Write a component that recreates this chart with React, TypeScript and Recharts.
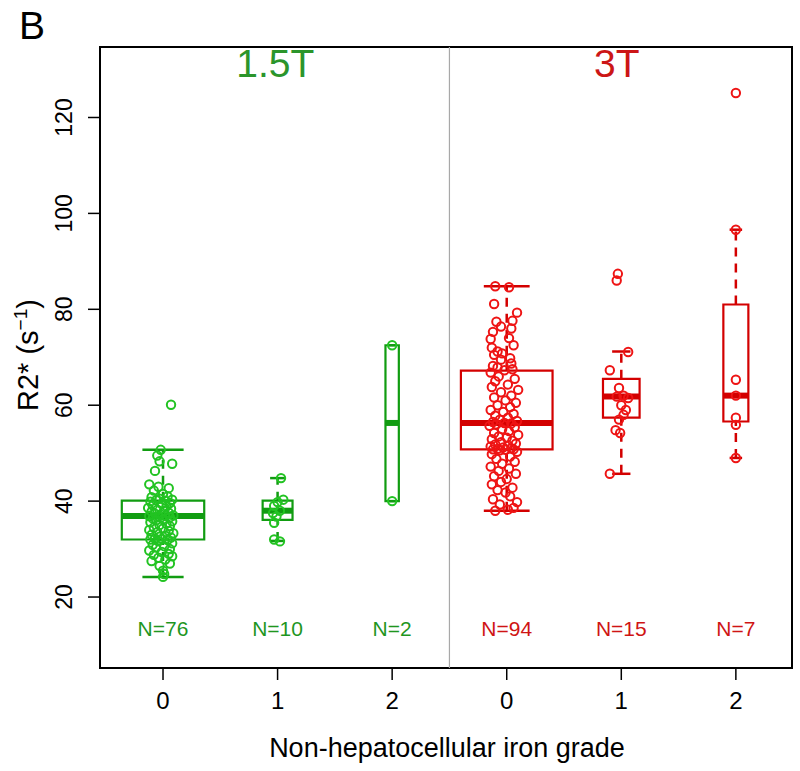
import {
  ComposedChart,
  ReferenceArea,
  ReferenceLine,
  Scatter,
  XAxis,
  YAxis,
} from "recharts";

// group positions, tick labels and sample sizes
const groupX = [1, 2, 3, 4, 5, 6];
const gradeLabels = ["0", "1", "2", "0", "1", "2"];
const counts = [76, 10, 2, 94, 15, 7];
const fieldOf = ["1.5T", "1.5T", "1.5T", "3T", "3T", "3T"];
const yTicks = [20, 40, 60, 80, 100, 120];

// box statistics
const q1 = [32.0, 36.1, 40.0, 50.8, 57.4, 56.6];
const medians = [36.9, 38.0, 56.3, 56.3, 61.8, 62.0];
const q3 = [40.1, 40.1, 72.5, 67.2, 65.5, 81.0];
const whiskerLow = [24.2, 31.7, 40.0, 38.0, 45.7, 49.0];
const whiskerHigh = [50.7, 44.8, 72.5, 84.8, 71.2, 96.6];

// jittered points [x, R2*]
const pts15g0: [number, number][] = [
  [1.07, 60.1], [0.98, 50.7], [0.95, 49.5], [0.97, 48.3], [1.08, 47.8],
  [0.93, 46.3], [0.88, 43.5], [0.96, 43.0], [1.05, 42.7], [0.92, 42.2],
  [1.0, 41.5], [1.04, 41.0], [0.9, 40.8], [0.97, 40.5], [1.08, 40.3],
  [0.94, 40.2], [1.02, 40.1], [0.89, 39.9], [1.06, 39.6], [0.99, 39.4],
  [0.91, 39.1], [1.03, 38.9], [0.87, 38.6], [1.07, 38.4], [0.95, 38.2],
  [1.01, 38.0], [0.9, 37.8], [1.05, 37.6], [0.93, 37.4], [0.98, 37.2],
  [1.09, 37.0], [0.88, 36.9], [1.02, 36.9], [0.96, 36.8], [1.06, 36.6],
  [0.91, 36.4], [1.0, 36.2], [0.94, 36.0], [1.08, 35.8], [0.89, 35.6],
  [1.03, 35.3], [0.97, 35.0], [1.06, 34.8], [0.92, 34.5], [1.0, 34.3],
  [0.88, 34.0], [1.05, 33.8], [0.95, 33.5], [1.09, 33.3], [0.9, 33.0],
  [1.02, 32.8], [0.97, 32.6], [1.07, 32.4], [0.93, 32.2], [0.99, 32.1],
  [0.89, 32.0], [1.04, 31.9], [0.96, 31.6], [1.08, 31.2], [0.91, 30.9],
  [1.01, 30.6], [0.94, 30.3], [1.06, 30.0], [0.88, 29.7], [0.99, 29.4],
  [1.05, 29.0], [0.92, 28.8], [1.08, 28.5], [0.96, 28.2], [1.02, 27.8],
  [0.9, 27.5], [1.06, 27.0], [0.97, 26.5], [1.0, 25.5], [1.01, 24.8],
  [1.0, 24.2],
];
const pts15g1: [number, number][] = [
  [2.03, 44.8], [2.05, 40.3], [2.0, 39.8], [1.97, 39.0], [2.02, 38.0],
  [1.96, 37.5], [1.99, 36.8], [1.97, 35.5], [1.97, 32.0], [2.02, 31.6],
];
const pts15g2: [number, number][] = [
  [3.0, 40.0], [3.0, 72.5],
];
const pts3g0: [number, number][] = [
  [3.9, 84.8], [4.02, 84.6], [3.89, 81.1], [4.09, 79.3], [4.05, 77.6],
  [3.91, 77.4], [3.95, 76.4], [4.04, 76.0], [3.88, 75.3], [4.02, 74.0],
  [3.86, 73.8], [4.06, 72.5], [3.87, 72.0], [3.92, 71.2], [3.96, 70.8],
  [3.89, 70.5], [4.03, 69.8], [3.95, 69.5], [4.04, 68.7], [3.88, 68.2],
  [3.92, 67.9], [4.05, 67.5], [3.98, 67.3], [3.86, 66.8], [3.93, 66.0],
  [4.07, 65.5], [3.9, 65.0], [4.01, 64.3], [3.87, 63.8], [4.1, 63.2],
  [3.95, 62.7], [4.04, 62.0], [3.89, 61.6], [3.99, 61.0], [4.08, 60.5],
  [3.92, 60.0], [4.03, 59.6], [3.86, 59.0], [3.97, 58.6], [4.06, 58.2],
  [3.9, 57.8], [4.01, 57.4], [3.94, 57.0], [4.09, 56.7], [3.88, 56.5],
  [3.98, 56.3], [4.04, 56.2], [3.91, 56.0], [3.85, 55.7], [4.07, 55.4],
  [3.96, 55.0], [4.02, 54.6], [3.89, 54.2], [4.1, 53.8], [3.93, 53.5],
  [4.0, 53.2], [3.87, 52.9], [4.05, 52.6], [3.95, 52.3], [4.08, 52.0],
  [3.9, 51.8], [4.01, 51.6], [3.86, 51.4], [3.97, 51.2], [4.04, 51.0],
  [3.92, 50.9], [3.88, 50.8], [4.06, 50.8], [3.99, 50.7], [3.94, 50.6],
  [4.09, 50.3], [3.87, 49.8], [4.03, 49.3], [3.91, 48.8], [4.07, 48.2],
  [3.96, 47.8], [3.86, 47.2], [4.02, 46.8], [3.93, 46.3], [4.08, 45.7],
  [3.89, 45.2], [4.0, 44.6], [3.95, 44.0], [3.87, 43.5], [4.05, 42.8],
  [3.92, 42.3], [3.99, 41.8], [4.03, 41.0], [3.88, 40.4], [4.09, 39.8],
  [3.94, 39.3], [4.06, 38.6], [4.01, 38.2], [3.9, 38.0],
];
const pts3g1: [number, number][] = [
  [4.97, 87.4], [4.96, 86.0], [5.06, 71.1], [4.9, 67.3], [4.98, 63.6],
  [5.02, 62.0], [4.96, 61.8], [5.06, 61.5], [5.0, 60.0], [5.04, 59.0],
  [5.02, 58.0], [4.98, 57.0], [4.95, 54.8], [4.99, 54.2], [4.9, 45.7],
];
const pts3g2: [number, number][] = [
  [6.0, 125.1], [6.0, 96.6], [6.0, 65.3], [6.0, 62.0], [6.0, 57.4],
  [6.0, 55.9], [6.0, 49.0],
];

const GREEN_PT = "#22c322";
const GREEN_BOX = "#119c11";
const GREEN_TXT = "#1f961f";
const RED_PT = "#ee1414";
const RED_BOX = "#d30000";
const RED_TXT = "#cf1414";

const FONT = '"Liberation Sans", Arial, sans-serif';

const toPoints = (arr: [number, number][]) => arr.map(([x, y]) => ({ x, y }));

const greenData = [...pts15g0, ...pts15g1, ...pts15g2];
const redData = [...pts3g0, ...pts3g1, ...pts3g2];

const nLabels = groupX.map((x, i) => ({
  x,
  y: 13.5,
  label: `N=${counts[i]}`,
  color: fieldOf[i] === "1.5T" ? GREEN_TXT : RED_TXT,
}));

const fieldTitles = [
  { x: 1.98, y: 131.3, label: "1.5T", color: "#2b952b" },
  { x: 4.96, y: 131.3, label: "3T", color: "#cc1616" },
];

const maxN = Math.max(...counts);
const halfWidth = (n: number) => 0.4 * Math.sqrt(n / maxN);

const circleShape = (color: string) => (props: any) => (
  <circle
    cx={props.cx}
    cy={props.cy}
    r={4.2}
    fill="none"
    stroke={color}
    strokeWidth={2}
  />
);

const textShape = (size: number) => (props: any) => (
  <text
    x={props.cx}
    y={props.cy}
    textAnchor="middle"
    dominantBaseline="central"
    fontSize={size}
    fontFamily={FONT}
    fill={props.payload.color}
  >
    {props.payload.label}
  </text>
);

const XTick = (props: any) => {
  const { x, y, payload } = props;
  const idx = groupX.indexOf(payload.value);
  return (
    <text
      x={x}
      y={y + 29}
      textAnchor="middle"
      fontSize={24}
      fontFamily={FONT}
      fill="#000"
    >
      {gradeLabels[idx]}
    </text>
  );
};

const YTick = (props: any) => {
  const { x, y, payload } = props;
  const bx = x - 16;
  return (
    <text
      x={bx}
      y={y}
      transform={`rotate(-90, ${bx}, ${y})`}
      textAnchor="middle"
      fontSize={23}
      fontFamily={FONT}
      fill="#000"
    >
      {payload.value}
    </text>
  );
};

export default function App() {
  return (
    <div
      style={{
        position: "absolute",
        left: 0,
        top: 0,
        width: 800,
        height: 771,
        background: "#fff",
      }}
    >
      <ComposedChart
        width={800}
        height={771}
        margin={{ top: 47, right: 8, left: 28, bottom: 43 }}
      >
        <XAxis
          type="number"
          dataKey="x"
          domain={[0.45, 6.49]}
          ticks={groupX}
          allowDataOverflow
          height={60}
          tickSize={12}
          tickMargin={0}
          axisLine={false}
          tickLine={{ stroke: "#000", strokeWidth: 1.5 }}
          tick={<XTick />}
          interval={0}
        />
        <YAxis
          type="number"
          dataKey="y"
          domain={[5.2, 134.7]}
          ticks={yTicks}
          allowDataOverflow
          width={72}
          tickSize={12}
          tickMargin={0}
          axisLine={false}
          tickLine={{ stroke: "#000", strokeWidth: 1.5 }}
          tick={<YTick />}
          interval={0}
        />
        <ReferenceLine x={3.5} stroke="#a8a8a8" strokeWidth={1.2} />
        {groupX.map((x, i) => {
          const hw = halfWidth(counts[i]);
          const color = fieldOf[i] === "1.5T" ? GREEN_BOX : RED_BOX;
          return [
            <ReferenceLine
              key={`wl-${i}`}
              segment={[
                { x, y: whiskerLow[i] },
                { x, y: q1[i] },
              ]}
              stroke={color}
              strokeWidth={2.5}
              strokeDasharray="9 7"
            />,
            <ReferenceLine
              key={`wh-${i}`}
              segment={[
                { x, y: q3[i] },
                { x, y: whiskerHigh[i] },
              ]}
              stroke={color}
              strokeWidth={2.5}
              strokeDasharray="9 7"
            />,
            <ReferenceLine
              key={`cl-${i}`}
              segment={[
                { x: x - hw / 2, y: whiskerLow[i] },
                { x: x + hw / 2, y: whiskerLow[i] },
              ]}
              stroke={color}
              strokeWidth={2.5}
            />,
            <ReferenceLine
              key={`ch-${i}`}
              segment={[
                { x: x - hw / 2, y: whiskerHigh[i] },
                { x: x + hw / 2, y: whiskerHigh[i] },
              ]}
              stroke={color}
              strokeWidth={2.5}
            />,
            <ReferenceArea
              key={`box-${i}`}
              x1={x - hw}
              x2={x + hw}
              y1={q1[i]}
              y2={q3[i]}
              fill="none"
              fillOpacity={0}
              stroke={color}
              strokeWidth={2.2}
            />,
            <ReferenceLine
              key={`med-${i}`}
              segment={[
                { x: x - hw, y: medians[i] },
                { x: x + hw, y: medians[i] },
              ]}
              stroke={color}
              strokeWidth={6}
            />,
          ];
        })}
        <ReferenceArea
          x1={0.45}
          x2={6.49}
          y1={5.2}
          y2={134.7}
          fill="none"
          fillOpacity={0}
          stroke="#000"
          strokeWidth={2}
        />
        <Scatter
          data={toPoints(greenData)}
          shape={circleShape(GREEN_PT)}
          isAnimationActive={false}
        />
        <Scatter
          data={toPoints(redData)}
          shape={circleShape(RED_PT)}
          isAnimationActive={false}
        />
        <Scatter data={nLabels} shape={textShape(21)} isAnimationActive={false} />
        <Scatter
          data={fieldTitles}
          shape={textShape(39)}
          isAnimationActive={false}
        />
      </ComposedChart>
      <svg
        width={800}
        height={771}
        style={{ position: "absolute", left: 0, top: 0, pointerEvents: "none" }}
      >
        <text x={19} y={39} fontSize={39} fontFamily={FONT} fill="#000">
          B
        </text>
        <text
          x={447}
          y={757}
          textAnchor="middle"
          fontSize={27}
          fontFamily={FONT}
          fill="#000"
        >
          Non-hepatocellular iron grade
        </text>
        <text
          x={38}
          y={355}
          transform="rotate(-90, 38, 355)"
          textAnchor="middle"
          fontSize={29}
          fontFamily={FONT}
          fill="#000"
        >
          R2* (s
          <tspan fontSize={19} dy={-11}>
            −1
          </tspan>
          <tspan dy={11}>)</tspan>
        </text>
      </svg>
    </div>
  );
}
